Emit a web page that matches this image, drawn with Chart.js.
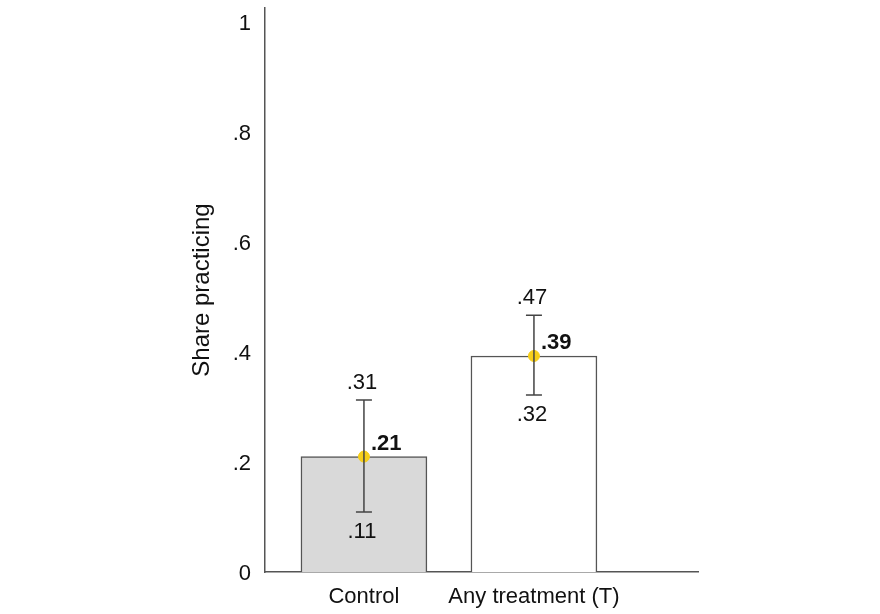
<!DOCTYPE html>
<html>
<head>
<meta charset="utf-8">
<script src="https://cdn.jsdelivr.net/npm/chart.js@4.4.0/dist/chart.umd.min.js"></script>
<style>
  html, body { margin: 0; padding: 0; background: #fff; }
  #wrap { width: 880px; height: 614px; }
</style>
</head>
<body>
<div id="wrap"><canvas id="myChart"></canvas></div>
<script>
var groups = ["Control", "Any treatment (T)"];
var groupPos = [1, 2];
var means = [0.21, 0.393];
var ciLow = [0.109, 0.322];
var ciHigh = [0.313, 0.467];
var meanLabels = [".21", ".39"];
var lowLabels = [".11", ".32"];
var highLabels = [".31", ".47"];
var yTicks = [0, 0.2, 0.4, 0.6, 0.8, 1];
var yTickLabels = ["0", ".2", ".4", ".6", ".8", "1"];
var barColors = ["#d9d9d9", "#ffffff"];

var FONT = "'Liberation Sans', Arial, Helvetica, sans-serif";

// error bars + value labels
var errPlugin = {
    id: 'errbars',
    afterDatasetsDraw: function(chart) {
        var ctx = chart.ctx;
        var xs = chart.scales.x, ys = chart.scales.y;
        ctx.save();
        for (var i = 0; i < groups.length; i++) {
            var x = xs.getPixelForValue(groupPos[i]);
            var yl = ys.getPixelForValue(ciLow[i]);
            var yh = ys.getPixelForValue(ciHigh[i]);
            ctx.strokeStyle = '#444';
            ctx.lineWidth = 1.5;
            ctx.beginPath();
            ctx.moveTo(x, yh); ctx.lineTo(x, yl);
            ctx.moveTo(x - 8, yh); ctx.lineTo(x + 8, yh);
            ctx.moveTo(x - 8, yl); ctx.lineTo(x + 8, yl);
            ctx.stroke();

            ctx.fillStyle = '#111';
            ctx.textAlign = 'center';
            ctx.textBaseline = 'middle';
            ctx.font = "22px " + FONT;
            ctx.fillText(highLabels[i], x - 2, yh - 17);
            ctx.fillText(lowLabels[i], x - 2, yl + 20);
        }
        ctx.restore();
    },
    afterDraw: function(chart) {
        var ctx = chart.ctx;
        var xs = chart.scales.x, ys = chart.scales.y;
        ctx.save();
        for (var i = 0; i < groups.length; i++) {
            var x = xs.getPixelForValue(groupPos[i]);
            var y = ys.getPixelForValue(means[i]);
            ctx.fillStyle = '#111';
            ctx.textAlign = 'left';
            ctx.textBaseline = 'middle';
            ctx.font = "bold 22px " + FONT;
            ctx.fillText(meanLabels[i], x + 7, y - 13);
        }
        ctx.restore();
    }
};

new Chart("myChart", {
    data: {
        datasets: [{
            type: 'scatter',
            data: groupPos.map(function(p, i) { return {x: p, y: means[i]}; }),
            backgroundColor: '#f7cf1a',
            borderColor: '#f7cf1a',
            pointRadius: 5.5,
            order: 0
        }, {
            type: 'bar',
            data: groupPos.map(function(p, i) { return {x: p, y: means[i]}; }),
            backgroundColor: barColors,
            borderColor: '#555',
            borderWidth: 1.5,
            barThickness: 126,
            order: 1
        }]
    },
    options: {
        responsive: true,
        maintainAspectRatio: false,
        animation: false,
        layout: { padding: { top: 8, right: 182, bottom: 0, left: 178 } },
        plugins: {
            legend: { display: false },
            tooltip: { enabled: false }
        },
        scales: {
            x: {
                type: 'linear',
                min: 0.418,
                max: 2.965,
                offset: false,
                grid: { display: false, drawTicks: false, offset: false },
                border: { display: true, color: '#555', width: 1.5 },
                afterBuildTicks: function(scale) {
                    scale.ticks = groupPos.map(function(v) { return {value: v}; });
                },
                afterFit: function(scale) {
                    scale.height = 42;
                    scale.paddingLeft = 0;
                    scale.paddingRight = 0;
                },
                ticks: {
                    color: '#111',
                    padding: 12,
                    maxRotation: 0,
                    autoSkip: false,
                    font: { size: 22, family: FONT },
                    callback: function(v) {
                        var i = groupPos.indexOf(v);
                        return i >= 0 ? groups[i] : '';
                    }
                }
            },
            y: {
                min: 0,
                max: 1.026,
                grid: { display: false, drawTicks: false },
                border: { display: true, color: '#555', width: 1.5 },
                afterBuildTicks: function(scale) {
                    scale.ticks = yTicks.map(function(v) { return {value: v}; });
                },
                afterFit: function(scale) {
                    scale.width = 87;
                    scale.paddingTop = 0;
                    scale.paddingBottom = 0;
                },
                title: {
                    display: true,
                    text: 'Share practicing',
                    color: '#111',
                    font: { size: 24, family: FONT },
                    padding: { top: 10, bottom: 0 }
                },
                ticks: {
                    color: '#111',
                    padding: 14,
                    labelOffset: 2,
                    font: { size: 22, family: FONT },
                    callback: function(v) {
                        var i = yTicks.indexOf(v);
                        return i >= 0 ? yTickLabels[i] : '';
                    }
                }
            }
        }
    },
    plugins: [errPlugin]
});
</script>
</body>
</html>
